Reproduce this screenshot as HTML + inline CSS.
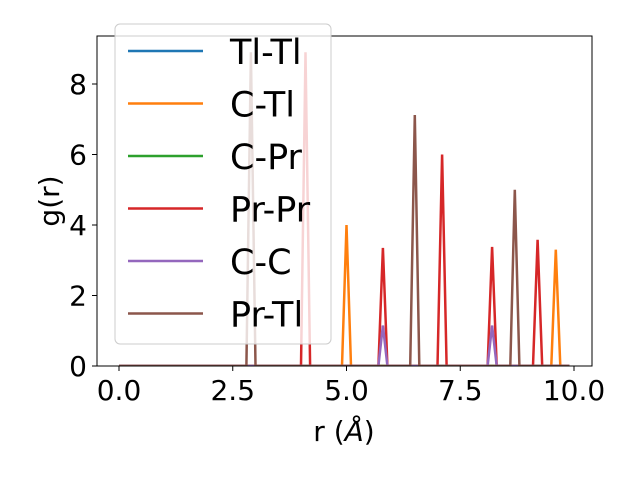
<!DOCTYPE html>
<html><head><meta charset="utf-8"><style>
body{margin:0;background:#fff}
text{font-family:"DejaVu Sans","Liberation Sans",sans-serif;fill:#000}
</style></head><body>
<svg id="chart" width="640" height="480">
<rect width="640" height="480" fill="#fff"/>
<g id="plot"></g>
<g id="axes"></g>
<g id="legend"></g>
</svg>
<script>
const rPeaks = {
 'Tl-Tl': [],
 'C-Tl': [[5.0,4.0],[9.6,3.3]],
 'C-Pr': [],
 'Pr-Pr': [[4.1,8.9],[5.8,3.35],[7.1,6.0],[8.2,3.38],[9.2,3.58]],
 'C-C': [[5.8,1.15],[8.2,1.15]],
 'Pr-Tl': [[2.9,8.9],[6.5,7.12],[8.7,5.0]]
};
const seriesNames = ['Tl-Tl','C-Tl','C-Pr','Pr-Pr','C-C','Pr-Tl'];
const seriesColors = ['#1f77b4','#ff7f0e','#2ca02c','#d62728','#9467bd','#8c564b'];
const xTicks = [0,2.5,5,7.5,10];
const xTickLabels = ['0.0','2.5','5.0','7.5','10.0'];
const yTicks = [0,2,4,6,8];
const rGridMax = 9.9;

const NS='http://www.w3.org/2000/svg';
const L=97,R=592,T=36,B=366;
const xs=v=>119+v*45.5;
const ys=v=>B-v*35.25;
function mk(tag,attrs,parent){const e=document.createElementNS(NS,tag);for(const k in attrs)e.setAttribute(k,attrs[k]);parent.appendChild(e);return e;}
const plot=document.getElementById('plot');
const clip=mk('clipPath',{id:'cp'},plot);mk('rect',{x:L,y:T,width:R-L,height:B-T},clip);
seriesNames.forEach((n,i)=>{
  const n100=Math.round(rGridMax*10);
  const pts=[];
  for(let k=0;k<=n100;k++){
    const r=k/10;let g=0;
    rPeaks[n].forEach(p=>{if(Math.abs(p[0]-r)<0.01)g=p[1];});
    pts.push(xs(r).toFixed(1)+','+ys(g).toFixed(1));
  }
  const pl=mk('polyline',{points:pts.join(' '),fill:'none',stroke:seriesColors[i],'stroke-width':2.5,'clip-path':'url(#cp)'},plot);
  
  
});
const ax=document.getElementById('axes');
mk('rect',{x:L,y:T,width:R-L,height:B-T,fill:'none',stroke:'#000','stroke-width':1},ax);
xTicks.forEach((v,i)=>{
  mk('line',{x1:xs(v),x2:xs(v),y1:B,y2:B+5,stroke:'#000'},ax);
  const t=mk('text',{x:xs(v),y:B+34,'text-anchor':'middle','font-size':28},ax);t.textContent=xTickLabels[i];
  
  
});
yTicks.forEach(v=>{
  mk('line',{x1:L-5,x2:L,y1:ys(v),y2:ys(v),stroke:'#000'},ax);
  const t=mk('text',{x:L-10,y:ys(v)+10,'text-anchor':'end','font-size':28},ax);t.textContent=v;
  
  
});
const xl=mk('text',{x:344,y:441,'text-anchor':'middle','font-size':28},ax);xl.innerHTML='r (<tspan font-style="italic">Å</tspan>)';


const yl=mk('text',{x:0,y:0,'text-anchor':'middle','font-size':28,transform:'translate(59,201) rotate(-90)'},ax);yl.textContent='g(r)';


const lg=document.getElementById('legend');


mk('rect',{x:115,y:24,width:216,height:320,rx:5,fill:'rgba(255,255,255,0.8)',stroke:'#ccc'},lg);
seriesNames.forEach((n,i)=>{
  const y=51+i*52.5;
  const g=mk('g',{},lg);
  
  
  mk('line',{x1:128,x2:203,y1:y,y2:y,stroke:seriesColors[i],'stroke-width':2.5},g);
  const t=mk('text',{x:230,y:y+13,'font-size':35},g);t.textContent=n;
});
</script>
</body></html>
